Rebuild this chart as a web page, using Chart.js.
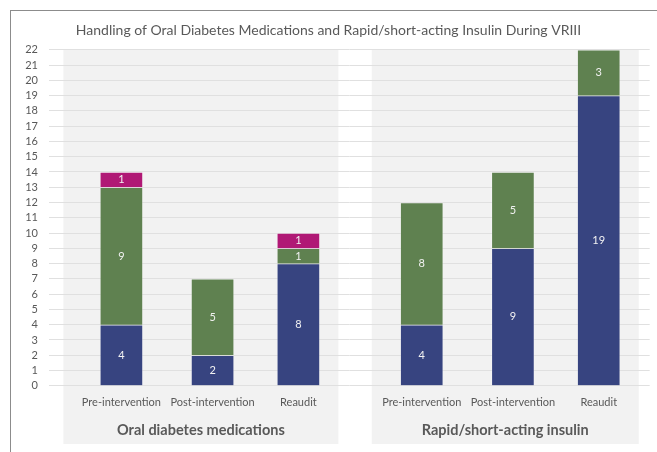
<!DOCTYPE html>
<html lang="en">
<head>
  <meta charset="UTF-8" />
  <title>Handling of Oral Diabetes Medications and Rapid/short-acting Insulin During VRIII</title>
  <script src="https://cdn.jsdelivr.net/npm/chart.js"></script>
  <style>
    body { margin: 0; background: #fff; overflow: hidden; }
    canvas { display: block; }
  </style>
</head>
<body>
  <canvas id="chart" width="657" height="452"></canvas>

<script>
  // Data
  const categories = ['Pre-intervention', 'Post-intervention', 'Reaudit'];
  const groups = ['Oral diabetes medications', 'Rapid/short-acting insulin'];

  const blueOral = [4, 2, 8];
  const greenOral = [9, 5, 1];
  const magentaOral = [1, 0, 1];

  const blueInsulin = [4, 9, 19];
  const greenInsulin = [8, 5, 3];
  const magentaInsulin = [0, 0, 0];

  const yMax = 22;
  const yStep = 1;

  // Slot layout on the category axis: many narrow slots, blanks make the spacing
  const leadSlots = 13;
  const catOffsets = [0, 17, 33];
  const groupStride = 56;
  const totalSlots = 112;

  const slotOf = (g, c) => leadSlots + g * groupStride + catOffsets[c];

  const labels = new Array(totalSlots).fill('');
  groups.forEach((g, gi) => categories.forEach((c, ci) => { labels[slotOf(gi, ci)] = c; }));

  function toSlots(oral, insulin) {
    const arr = new Array(totalSlots).fill(null);
    [oral, insulin].forEach((vals, gi) => vals.forEach((v, ci) => {
      arr[slotOf(gi, ci)] = v > 0 ? v : null;
    }));
    return arr;
  }

  const textGrey = '#595959';
  const font = 'Lato';
  // grey panel margins around each group's bars (px)
  const panelPadLeft = [58, 50];
  const panelPadRight = 40;

  // Grey group panels, outer frame, and group names
  const panelPlugin = {
    id: 'panels',
    beforeDraw(chart) {
      const { ctx, scales: { x, y } } = chart;
      ctx.save();
      ctx.fillStyle = '#fff';
      ctx.fillRect(0, 0, chart.width, chart.height);
      groups.forEach((g, gi) => {
        const left = x.getPixelForValue(slotOf(gi, 0)) - panelPadLeft[gi];
        const right = x.getPixelForValue(slotOf(gi, categories.length - 1)) + panelPadRight;
        const top = y.getPixelForValue(yMax);
        ctx.fillStyle = '#f2f2f2';
        ctx.fillRect(left, top, right - left, 444 - top);
        ctx.fillStyle = textGrey;
        ctx.font = `bold 14.5px ${font}`;
        ctx.textAlign = 'center';
        ctx.textBaseline = 'middle';
        ctx.fillText(g, (left + right) / 2, 430);
      });
      ctx.strokeStyle = '#8c8c8c';
      ctx.lineWidth = 1;
      ctx.strokeRect(10.5, 10.5, 1000, 1000);
      ctx.restore();
    }
  };

  // Value labels in the middle of each segment
  const valueLabels = {
    id: 'valueLabels',
    afterDatasetsDraw(chart) {
      const { ctx } = chart;
      ctx.save();
      ctx.fillStyle = '#f2f2f2';
      ctx.font = `11px ${font}`;
      ctx.textAlign = 'center';
      ctx.textBaseline = 'middle';
      chart.data.datasets.forEach((ds, di) => {
        chart.getDatasetMeta(di).data.forEach((bar, i) => {
          const v = ds.data[i];
          if (!v) return;
          ctx.fillText(v, bar.x, (bar.y + bar.base) / 2);
        });
      });
      ctx.restore();
    }
  };

  new Chart(document.getElementById('chart'), {
    type: 'bar',
    data: {
      labels: labels,
      datasets: [
        { label: 'Blue', data: toSlots(blueOral, blueInsulin), backgroundColor: '#374480' },
        { label: 'Green', data: toSlots(greenOral, greenInsulin), backgroundColor: '#5f8150' },
        { label: 'Magenta', data: toSlots(magentaOral, magentaInsulin), backgroundColor: '#b01875' }
      ].map(d => Object.assign(d, {
        barThickness: 43,
        borderWidth: 1,
        borderColor: 'rgba(255,255,255,0.2)',
        borderSkipped: 'bottom'
      }))
    },
    options: {
      responsive: false,
      animation: false,
      layout: { padding: { left: 0, right: 0, top: 0, bottom: 33 } },
      plugins: {
        legend: { display: false },
        tooltip: { enabled: false },
        title: {
          display: true,
          text: 'Handling of Oral Diabetes Medications and Rapid/short-acting Insulin During VRIII',
          color: textGrey,
          font: { family: font, size: 14, weight: 'normal' },
          padding: { top: 22, bottom: 11 }
        }
      },
      scales: {
        x: {
          stacked: true,
          grid: { display: false, drawTicks: false },
          border: { display: false },
          ticks: {
            autoSkip: false, maxRotation: 0, minRotation: 0, padding: 10,
            color: textGrey, font: { family: font, size: 11 }
          }
        },
        y: {
          stacked: true,
          min: 0,
          max: yMax,
          afterFit: s => { s.width = 49; },
          grid: { color: '#e0e0e0', lineWidth: 1, drawTicks: false },
          border: { display: false },
          ticks: {
            stepSize: yStep, autoSkip: false, padding: 11,
            color: textGrey, font: { family: font, size: 11 }
          }
        }
      }
    },
    plugins: [panelPlugin, valueLabels]
  });
</script>
</body>
</html>
